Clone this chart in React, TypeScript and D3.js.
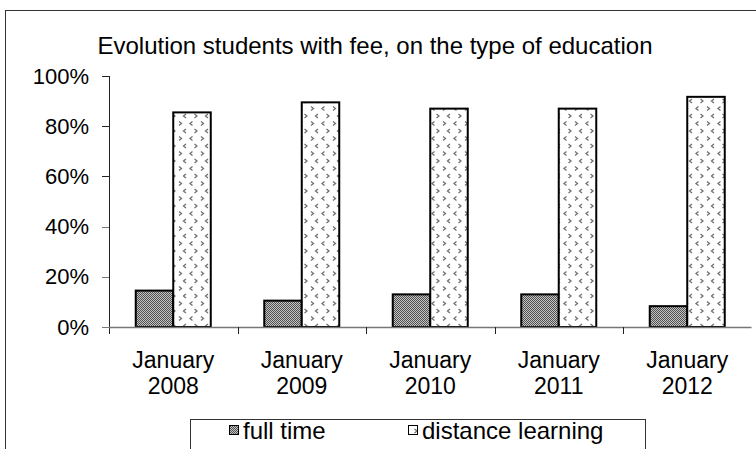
import React, { useEffect, useRef } from "react";
import * as d3 from "d3";

const categories: string[] = ["January 2008", "January 2009", "January 2010", "January 2011", "January 2012"];
const fullTime: number[] = [14.5, 10.5, 13, 13, 8.3];
const distanceLearning: number[] = [85.5, 89.5, 87, 87, 91.7];
const seriesNames: string[] = ["full time", "distance learning"];
const yTicks: number[] = [0, 20, 40, 60, 80, 100];

const FONT = "'Liberation Sans', Arial, sans-serif";

const App: React.FC = () => {
  const svgRef = useRef<SVGSVGElement | null>(null);

  useEffect(() => {
    if (!svgRef.current) return;
    const width = 756;
    const height = 449;
    const plot = { left: 109, right: 751.5, top: 76, bottom: 327 };

    const svg = d3.select(svgRef.current);
    svg.selectAll("*").remove();
    svg.attr("width", width).attr("height", height);

    // patterns
    const defs = svg.append("defs");
    const dark = defs.append("pattern")
      .attr("id", "pat-full")
      .attr("patternUnits", "userSpaceOnUse")
      .attr("width", 2).attr("height", 2);
    dark.append("rect").attr("width", 2).attr("height", 2).attr("fill", "#c4c4c4");
    dark.append("rect").attr("width", 1).attr("height", 1).attr("fill", "#505050");
    dark.append("rect").attr("x", 1).attr("y", 1).attr("width", 1).attr("height", 1).attr("fill", "#505050");

    const dots = defs.append("pattern")
      .attr("id", "pat-dist")
      .attr("patternUnits", "userSpaceOnUse")
      .attr("width", 22).attr("height", 15);
    dots.append("rect").attr("width", 22).attr("height", 15).attr("fill", "#fff");
    // small ">" and "<" marks
    const chev = [
      "M3,1.5 L5.5,3.5 L3,5.5",
      "M16.5,1.5 L14,3.5 L16.5,5.5",
      "M10,9 L7.5,11 L10,13",
      "M18.5,9 L21,11 L18.5,13",
    ];
    chev.forEach(d => dots.append("path").attr("d", d)
      .attr("fill", "none").attr("stroke", "#707070").attr("stroke-width", 1.3));

    // outer frame
    svg.append("rect")
      .attr("x", 5.5).attr("y", 10.5)
      .attr("width", width + 10).attr("height", height + 10)
      .attr("fill", "#fff").attr("stroke", "#333").attr("stroke-width", 1);

    svg.append("text")
      .attr("x", 375).attr("y", 54)
      .attr("text-anchor", "middle")
      .attr("font-family", FONT).attr("font-size", 24)
      .text("Evolution students with fee, on the type of education");

    const x = d3.scaleBand().domain(categories).range([plot.left, plot.right]);
    const x1 = d3.scaleBand().domain(seriesNames).range([0, 75]);
    const y = d3.scaleLinear().domain([0, 100]).range([plot.bottom, plot.top]);

    // y axis
    const gy = svg.append("g");
    gy.append("line")
      .attr("x1", plot.left + 0.5).attr("x2", plot.left + 0.5)
      .attr("y1", y(100)).attr("y2", plot.bottom + 7)
      .attr("stroke", "#222");
    gy.selectAll("line.tick").data(yTicks).enter().append("line")
      .attr("x1", plot.left - 7).attr("x2", plot.left)
      .attr("y1", d => Math.round(y(d)) + 0.5).attr("y2", d => Math.round(y(d)) + 0.5)
      .attr("stroke", d => (d >= 60 ? "#222" : "#777"));
    gy.selectAll("text").data(yTicks).enter().append("text")
      .attr("x", 89).attr("y", d => y(d) + 7.5)
      .attr("text-anchor", "end")
      .attr("font-family", FONT).attr("font-size", 22)
      .text(d => `${d}%`);

    // bars
    const series = [fullTime, distanceLearning];
    const fills = ["url(#pat-full)", "url(#pat-dist)"];
    seriesNames.forEach((name, si) => {
      svg.append("g").selectAll("rect").data(categories).enter().append("rect")
        .attr("x", (c) => (x(c) as number) + (x.bandwidth() - 75) / 2 + (x1(name) as number))
        .attr("y", (_c, i) => y(series[si][i]))
        .attr("width", x1.bandwidth())
        .attr("height", (_c, i) => plot.bottom - y(series[si][i]))
        .attr("fill", fills[si])
        .attr("stroke", "#000").attr("stroke-width", 2);
    });

    // x axis
    const gx = svg.append("g");
    gx.append("line")
      .attr("x1", plot.left).attr("x2", plot.right)
      .attr("y1", plot.bottom + 0.5).attr("y2", plot.bottom + 0.5)
      .attr("stroke", "#777").attr("stroke-width", 1.5);
    const boundaries = categories.slice(1).map(c => x(c) as number);
    gx.selectAll("line.tick").data(boundaries).enter().append("line")
      .attr("x1", d => Math.round(d) + 0.5).attr("x2", d => Math.round(d) + 0.5)
      .attr("y1", plot.bottom).attr("y2", plot.bottom + 7)
      .attr("stroke", "#222");
    const lbl = gx.selectAll("text").data(categories).enter().append("text")
      .attr("text-anchor", "middle")
      .attr("font-family", FONT).attr("font-size", 23);
    lbl.append("tspan")
      .attr("x", c => (x(c) as number) + x.bandwidth() / 2).attr("y", 368)
      .text(c => c.split(" ")[0]);
    lbl.append("tspan")
      .attr("x", c => (x(c) as number) + x.bandwidth() / 2).attr("y", 394)
      .text(c => c.split(" ")[1]);

    // legend
    const lg = svg.append("g");
    lg.append("rect")
      .attr("x", 190.5).attr("y", 419.5).attr("width", 455).attr("height", 60)
      .attr("fill", "#fff").attr("stroke", "#333");
    const lx = [229, 408];
    seriesNames.forEach((name, i) => {
      lg.append("rect")
        .attr("x", lx[i] + 0.5).attr("y", 425.5).attr("width", 9).attr("height", 9)
        .attr("fill", fills[i]).attr("stroke", "#000");
      lg.append("text")
        .attr("x", lx[i] + 14).attr("y", 439)
        .attr("font-family", FONT).attr("font-size", 24)
        .text(name);
    });
  }, []);

  return (
    <svg ref={svgRef} style={{ position: "absolute", left: 0, top: 0, display: "block" }}></svg>
  );
};

export default App;
